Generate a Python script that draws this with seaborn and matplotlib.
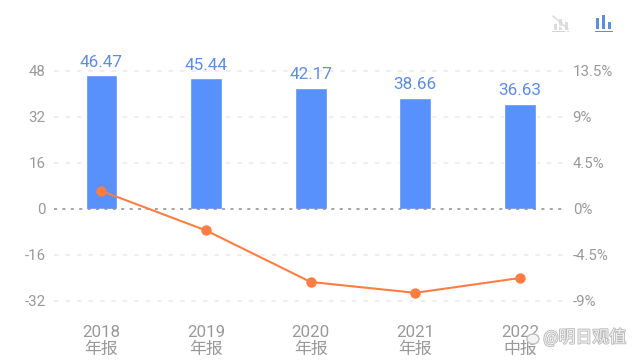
import pandas as pd
import seaborn as sns
import matplotlib.pyplot as plt
import matplotlib.patheffects as pe
from matplotlib.patches import Rectangle, Ellipse
from matplotlib.lines import Line2D

years = ['2018', '2019', '2020', '2021', '2022']
periods = ['年报', '年报', '年报', '年报', '中报']
bar_values = [46.47, 45.44, 42.17, 38.66, 36.63]
line_values = [1.76, -2.1, -7.14, -8.2, -6.75]
left_ticks = [-32, -16, 0, 16, 32, 48]
right_ticks = [-9, -4.5, 0, 4.5, 9, 13.5]
right_labels = ['-9%', '-4.5%', '0%', '4.5%', '9%', '13.5%']

BLUE = '#5890FC'
LABEL_BLUE = '#5E8CDF'
ORANGE = '#FF7D42'
GREY = '#999999'
W, H = 640, 360


def run():
    sns.set_style("white")
    plt.rcParams['font.family'] = ['Roboto', 'Noto Sans CJK SC', 'DejaVu Sans']
    plt.rcParams['axes.unicode_minus'] = False

    df = pd.DataFrame({'label': [y + '\n' + p for y, p in zip(years, periods)],
                       'bar': bar_values,
                       'line': line_values})

    fig = plt.figure(figsize=(6.4, 3.6), dpi=100)
    ax = fig.add_axes([54 / W, 1 - 301 / H, 511 / W, 230 / H])

    sns.barplot(data=df, x='label', y='bar', color=BLUE, saturation=1,
                width=0.305, ax=ax, zorder=2)
    ax.set_xlim(-0.454, 4.431)
    ax.set_ylim(-32, 48)
    ax.set_xlabel('')
    ax.set_ylabel('')
    ax.set_yticks(left_ticks)
    ax.tick_params(axis='both', length=0, labelcolor=GREY, labelsize=10.8)
    ax.tick_params(axis='y', pad=6)
    ax.tick_params(axis='x', labelsize=12.2, pad=17.5)
    for t in ax.get_xticklabels():
        t.set_linespacing(1.1)
    sns.despine(ax=ax, left=True, bottom=True)

    # dashed grid, the zero line is darker
    for v in left_ticks:
        if v == 0:
            ax.axhline(v, color='#8C8C8C', lw=1.1, ls=(0, (2, 3.5)), zorder=3, clip_on=False)
        else:
            ax.axhline(v, color='#EAEAEA', lw=1.1, ls=(0, (3, 4.5)), zorder=1, clip_on=False)

    for i, v in enumerate(bar_values):
        ax.annotate(f'{v:.2f}', (i, v), xytext=(0, 4), textcoords='offset points',
                    ha='center', va='bottom', color=LABEL_BLUE, fontsize=12.3)

    ax2 = ax.twinx()
    sns.lineplot(data=df, x='label', y='line', color=ORANGE, lw=1.5, marker='o',
                 markersize=7.5, markeredgewidth=0, ax=ax2, zorder=5, clip_on=False)
    ax2.set_ylim(-9, 13.5)
    ax2.set_yticks(right_ticks)
    ax2.set_yticklabels(right_labels)
    ax2.set_ylabel('')
    ax2.tick_params(axis='y', length=0, labelcolor=GREY, labelsize=10.8, pad=5.5)
    ax2.grid(False)
    sns.despine(ax=ax2, left=True, right=True, bottom=True)

    # toolbar icons top right
    def px_rect(x, y, w, h, color):
        fig.patches.append(Rectangle((x / W, 1 - (y + h) / H), w / W, h / H,
                                     transform=fig.transFigure, color=color, lw=0))

    for x, y, h in [(554, 24, 6), (559, 19, 11), (565, 22, 8)]:
        px_rect(x, y, 2.5, h, '#DDDDDD')
    px_rect(552, 31, 17, 1, '#D5D5D5')
    fig.add_artist(Line2D([553 / W, 568 / W], [1 - 16 / H, 1 - 29 / H], color='#DADADA', lw=1.1))
    fig.add_artist(Line2D([553 / W, 568 / W], [1 - 20 / H, 1 - 33 / H], color='#FFFFFF', lw=0.8))

    for x, y, h in [(596, 18, 11), (602, 15, 14), (608, 22, 7)]:
        px_rect(x, y, 3, h, '#5E8CDF')
    px_rect(595, 31, 18, 1, '#5E8CDF')

    # watermark
    fig.add_artist(Ellipse((533 / W, 1 - 339 / H), 12 / W, 10 / H, transform=fig.transFigure,
                           facecolor='#F4F4F4', edgecolor='#C0C0C0', lw=1))
    fig.text(626 / W, 1 - 337 / H, '@明日观值', color='#F0F0F0', fontsize=12.2,
             ha='right', va='center',
             path_effects=[pe.withStroke(linewidth=1.2, foreground='#B8B8B8')])

    fig.savefig('out.png', dpi=100)
    plt.close()


if __name__ == "__main__":
    run()
